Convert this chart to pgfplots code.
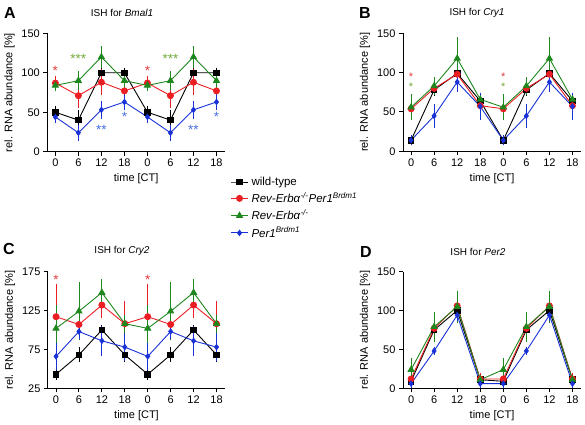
\documentclass[border=0pt]{standalone}
\usepackage{pgfplots}
\pgfplotsset{compat=1.18}
\usepackage{fontspec}
\setmainfont{Liberation Sans}
\definecolor{cred}{RGB}{235,30,35}
\definecolor{cgreen}{RGB}{30,135,30}
\definecolor{cblue}{RGB}{25,50,215}
\definecolor{sred}{RGB}{225,60,60}
\definecolor{sgreen}{RGB}{115,170,60}
\definecolor{sblue}{RGB}{70,110,225}
\pgfplotsset{prism/.style={
  scale only axis,
  axis x line*=bottom, axis y line*=left,
  axis line style={-, line width=1pt, black},
  tick align=outside, major tick length=4pt,
  every tick/.style={black, line width=1pt},
  xmin=-0.35, xmax=7.37,
  xtick={0,...,7}, xticklabels={0,6,12,18,0,6,12,18},
  tick label style={font=\fontsize{11}{13}\selectfont},
  /pgf/number format/assume math mode=true,
  label style={font=\fontsize{11}{13}\selectfont},
  xlabel={time [CT]}, ylabel={rel. RNA abundance [\%]},
  clip=false,
  every axis plot/.append style={line width=0.9pt,
    /pgfplots/error bars/y dir=both,
    /pgfplots/error bars/y explicit,
    /pgfplots/error bars/error bar style={line width=0.8pt},
    /pgfplots/error bars/error mark options={mark size=3.5pt, line width=0.8pt}},
},
wt/.style={black, mark=square*, mark size=2.8pt},
rp/.style={cred, mark=*, mark size=3pt},
rv/.style={cgreen, mark=triangle*, mark size=3.4pt},
p1/.style={cblue, mark=diamond*, mark size=2.6pt},
}
\tikzset{star/.style={inner sep=0pt, font=\fontsize{13.5}{13.5}\selectfont},
  sstar/.style={inner sep=0pt, font=\fontsize{11}{11}\selectfont}}
\begin{document}
\begin{tikzpicture}
\useasboundingbox (0,0) rectangle (585pt,424pt);
% Panel A
\begin{axis}[prism, at={(47.3pt,272.3pt)}, anchor=south west,
  width=177.7pt, height=118.4pt, ymin=0, ymax=150, ytick={0,50,100,150},
  legend entries={wild-type,
    {\textit{Rev-Erbα}\textsuperscript{\textit{-/-}}\textit{Per1}\textsuperscript{\textit{Brdm1}}},
    {\textit{Rev-Erbα}\textsuperscript{\textit{-/-}}},
    {\textit{Per1}\textsuperscript{\textit{Brdm1}}}},
  legend style={at={(axis description cs:1.03,-0.2)}, anchor=north west,
    draw=none, fill=none, font=\fontsize{11.5}{13}\selectfont,
    row sep=2.6pt, inner sep=0pt, nodes={inner ysep=1.5pt, inner xsep=3pt, anchor=west}},
  legend cell align=left]
\addplot[wt] coordinates {(0,50) +- (0,3) (1,40) +- (0,9) (2,100) +- (0,2) (3,100) +- (0,2) (4,50) +- (0,3) (5,40) +- (0,9) (6,100) +- (0,2) (7,100) +- (0,2)};
\addplot[rp] coordinates {(0,87) +- (0,4) (1,71) +- (0,11) (2,88) +- (0,12) (3,77) +- (0,11) (4,87) +- (0,4) (5,71) +- (0,11) (6,88) +- (0,12) (7,77) +- (0,11)};
\addplot[rv] coordinates {(0,84) +- (0,3) (1,90) +- (0,8) (2,120) +- (0,10) (3,90) +- (0,5) (4,84) +- (0,3) (5,90) +- (0,8) (6,120) +- (0,10) (7,90) +- (0,5)};
\addplot[p1] coordinates {(0,44) +- (0,3) (1,24) +- (0,6) (2,53) +- (0,7) (3,63) +- (0,6) (4,44) +- (0,3) (5,24) +- (0,6) (6,53) +- (0,7) (7,63) +- (0,6)};
\node[star, sred] at (axis cs:0,103) {*};
\node[star, sred] at (axis cs:4,103) {*};
\node[star, sgreen] at (axis cs:1,118) {***};
\node[star, sgreen] at (axis cs:5,118) {***};
\node[star, sblue] at (axis cs:2,28) {**};
\node[star, sblue] at (axis cs:6,28) {**};
\node[star, sblue] at (axis cs:3,44) {*};
\node[star, sblue] at (axis cs:7,44) {*};
\end{axis}
% Panel B
\begin{axis}[prism, at={(403pt,272.7pt)}, anchor=south west,
  width=178pt, height=118pt, ymin=0, ymax=150, ytick={0,50,100,150}]
\addplot[wt] coordinates {(0,14) +- (0,2) (1,78) +- (0,3) (2,99) +- (0,4) (3,64) +- (0,3) (4,14) +- (0,2) (5,78) +- (0,3) (6,99) +- (0,4) (7,64) +- (0,3)};
\addplot[rp] coordinates {(0,54) +- (0,9) (1,80) +- (0,4) (2,98) +- (0,10) (3,58) +- (0,11) (4,54) +- (0,9) (5,80) +- (0,4) (6,98) +- (0,10) (7,58) +- (0,11)};
\addplot[rv] coordinates {(0,56) +- (0,12) (1,83) +- (0,7) (2,118) +- (0,23) (3,66) +- (0,3) (4,56) +- (0,12) (5,83) +- (0,7) (6,118) +- (0,23) (7,66) +- (0,3)};
\addplot[p1] coordinates {(0,14) +- (0,2) (1,45) +- (0,11) (2,88) +- (0,8) (3,57) +- (0,13) (4,14) +- (0,2) (5,45) +- (0,11) (6,88) +- (0,8) (7,57) +- (0,13)};
\node[sstar, sred] at (axis cs:0,94.5) {*};
\node[sstar, sred] at (axis cs:4,94.5) {*};
\node[sstar, sgreen] at (axis cs:0,82) {*};
\node[sstar, sgreen] at (axis cs:4,82) {*};
\end{axis}
% Panel C
\begin{axis}[prism, at={(48pt,35.7pt)}, anchor=south west,
  width=177pt, height=116.7pt, ymin=25, ymax=175, ytick={25,75,125,175}]
\addplot[wt] coordinates {(0,43) +- (0,3) (1,68) +- (0,5) (2,100) +- (0,2) (3,68) +- (0,5) (4,43) +- (0,3) (5,68) +- (0,5) (6,100) +- (0,2) (7,68) +- (0,5)};
\addplot[rp] coordinates {(0,117) +- (0,38) (1,107) +- (0,3) (2,132) +- (0,12) (3,108) +- (0,25) (4,117) +- (0,38) (5,107) +- (0,3) (6,132) +- (0,12) (7,108) +- (0,25)};
\addplot[rv] coordinates {(0,102) +- (0,25) (1,124) +- (0,33) (2,148) +- (0,13) (3,108) +- (0,7) (4,102) +- (0,25) (5,124) +- (0,33) (6,148) +- (0,13) (7,108) +- (0,7)};
\addplot[p1] coordinates {(0,66) +- (0,13) (1,98) +- (0,5) (2,86) +- (0,15) (3,78) +- (0,14) (4,66) +- (0,13) (5,98) +- (0,5) (6,86) +- (0,15) (7,78) +- (0,14)};
\node[star, sred] at (axis cs:0,164) {*};
\node[star, sred] at (axis cs:4,164) {*};
\end{axis}
% Panel D
\begin{axis}[prism, at={(403pt,35.7pt)}, anchor=south west,
  width=178pt, height=116.7pt, ymin=0, ymax=150, ytick={0,50,100,150}]
\addplot[wt] coordinates {(0,9) +- (0,2) (1,75) +- (0,5) (2,100) +- (0,3) (3,11) +- (0,2) (4,9) +- (0,2) (5,75) +- (0,5) (6,100) +- (0,3) (7,11) +- (0,2)};
\addplot[rp] coordinates {(0,12) +- (0,5) (1,77) +- (0,6) (2,106) +- (0,12) (3,12) +- (0,3) (4,12) +- (0,5) (5,77) +- (0,6) (6,106) +- (0,12) (7,12) +- (0,3)};
\addplot[rv] coordinates {(0,24) +- (0,11) (1,79) +- (0,15) (2,105) +- (0,16) (3,11) +- (0,2) (4,24) +- (0,11) (5,79) +- (0,15) (6,105) +- (0,16) (7,11) +- (0,2)};
\addplot[p1] coordinates {(0,6) +- (0,1) (1,48) +- (0,1) (2,94) +- (0,3) (3,6) +- (0,1) (4,6) +- (0,1) (5,48) +- (0,1) (6,94) +- (0,3) (7,6) +- (0,1)};
\end{axis}
% titles and panel letters
\node[font=\fontsize{10}{12}\selectfont] at (122pt,411pt) {ISH for \textit{Bmal1}};
\node[font=\fontsize{10}{12}\selectfont] at (477pt,411pt) {ISH for \textit{Cry1}};
\node[font=\fontsize{10}{12}\selectfont] at (122pt,173pt) {ISH for \textit{Cry2}};
\node[font=\fontsize{10}{12}\selectfont] at (478pt,172pt) {ISH for \textit{Per2}};
\node[font=\fontsize{16}{18}\selectfont\bfseries] at (10pt,411.5pt) {A};
\node[font=\fontsize{16}{18}\selectfont\bfseries] at (365pt,411.5pt) {B};
\node[font=\fontsize{16}{18}\selectfont\bfseries] at (9pt,175pt) {C};
\node[font=\fontsize{16}{18}\selectfont\bfseries] at (366pt,172.5pt) {D};
\end{tikzpicture}
\end{document}
